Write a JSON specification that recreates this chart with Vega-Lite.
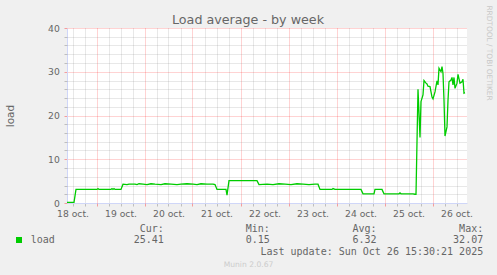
{
  "$schema": "https://vega.github.io/schema/vega-lite/v6.json",
  "width": 400,
  "height": 175,
  "autosize": {"type": "none"},
  "padding": {"left": 67, "top": 28, "right": 30, "bottom": 72},
  "background": "#f0f0f0",
  "title": {
    "text": "Load average - by week",
    "font": "DejaVu Sans",
    "fontSize": 12.7,
    "fontWeight": "normal",
    "color": "#666666",
    "anchor": "middle",
    "frame": "group",
    "dx": -19,
    "dy": 22,
    "offset": 0
  },
  "config": {
    "view": {"fill": "white", "stroke": null},
    "font": "DejaVu Sans"
  },
  "data": {
    "values": [
      {"t": "2025-10-18T09:15Z", "load": 0.15, "series": "load"},
      {"t": "2025-10-18T12:45Z", "load": 0.15, "series": "load"},
      {"t": "2025-10-18T13:45Z", "load": 3.1, "series": "load"},
      {"t": "2025-10-19T00:15Z", "load": 3.1, "series": "load"},
      {"t": "2025-10-19T00:45Z", "load": 3.3, "series": "load"},
      {"t": "2025-10-19T01:15Z", "load": 3.1, "series": "load"},
      {"t": "2025-10-19T07:15Z", "load": 3.1, "series": "load"},
      {"t": "2025-10-19T07:45Z", "load": 3.3, "series": "load"},
      {"t": "2025-10-19T08:15Z", "load": 3.1, "series": "load"},
      {"t": "2025-10-19T08:45Z", "load": 3.3, "series": "load"},
      {"t": "2025-10-19T09:15Z", "load": 3.1, "series": "load"},
      {"t": "2025-10-19T12:15Z", "load": 3.1, "series": "load"},
      {"t": "2025-10-19T13:15Z", "load": 4.3, "series": "load"},
      {"t": "2025-10-19T15:15Z", "load": 4.2, "series": "load"},
      {"t": "2025-10-19T16:15Z", "load": 4.3, "series": "load"},
      {"t": "2025-10-19T19:15Z", "load": 4.3, "series": "load"},
      {"t": "2025-10-19T20:15Z", "load": 4.2, "series": "load"},
      {"t": "2025-10-19T21:15Z", "load": 4.4, "series": "load"},
      {"t": "2025-10-19T23:15Z", "load": 4.3, "series": "load"},
      {"t": "2025-10-20T01:15Z", "load": 4.2, "series": "load"},
      {"t": "2025-10-20T03:15Z", "load": 4.4, "series": "load"},
      {"t": "2025-10-20T05:15Z", "load": 4.3, "series": "load"},
      {"t": "2025-10-20T08:15Z", "load": 4.2, "series": "load"},
      {"t": "2025-10-20T10:15Z", "load": 4.4, "series": "load"},
      {"t": "2025-10-20T13:15Z", "load": 4.3, "series": "load"},
      {"t": "2025-10-20T16:15Z", "load": 4.2, "series": "load"},
      {"t": "2025-10-20T18:15Z", "load": 4.3, "series": "load"},
      {"t": "2025-10-20T21:15Z", "load": 4.4, "series": "load"},
      {"t": "2025-10-21T00:15Z", "load": 4.3, "series": "load"},
      {"t": "2025-10-21T02:15Z", "load": 4.2, "series": "load"},
      {"t": "2025-10-21T04:15Z", "load": 4.4, "series": "load"},
      {"t": "2025-10-21T07:15Z", "load": 4.3, "series": "load"},
      {"t": "2025-10-21T10:15Z", "load": 4.3, "series": "load"},
      {"t": "2025-10-21T11:15Z", "load": 4.2, "series": "load"},
      {"t": "2025-10-21T12:15Z", "load": 3.1, "series": "load"},
      {"t": "2025-10-21T16:45Z", "load": 3.1, "series": "load"},
      {"t": "2025-10-21T17:15Z", "load": 1.8, "series": "load"},
      {"t": "2025-10-21T18:15Z", "load": 5.1, "series": "load"},
      {"t": "2025-10-22T08:15Z", "load": 5.1, "series": "load"},
      {"t": "2025-10-22T09:15Z", "load": 4.2, "series": "load"},
      {"t": "2025-10-22T13:15Z", "load": 4.3, "series": "load"},
      {"t": "2025-10-22T16:15Z", "load": 4.2, "series": "load"},
      {"t": "2025-10-22T19:15Z", "load": 4.4, "series": "load"},
      {"t": "2025-10-22T22:15Z", "load": 4.3, "series": "load"},
      {"t": "2025-10-23T01:15Z", "load": 4.2, "series": "load"},
      {"t": "2025-10-23T04:15Z", "load": 4.4, "series": "load"},
      {"t": "2025-10-23T07:15Z", "load": 4.3, "series": "load"},
      {"t": "2025-10-23T10:15Z", "load": 4.2, "series": "load"},
      {"t": "2025-10-23T13:15Z", "load": 4.3, "series": "load"},
      {"t": "2025-10-23T14:45Z", "load": 4.3, "series": "load"},
      {"t": "2025-10-23T15:45Z", "load": 3.1, "series": "load"},
      {"t": "2025-10-23T21:45Z", "load": 3.1, "series": "load"},
      {"t": "2025-10-23T22:15Z", "load": 3.3, "series": "load"},
      {"t": "2025-10-23T23:15Z", "load": 3.1, "series": "load"},
      {"t": "2025-10-24T12:15Z", "load": 3.1, "series": "load"},
      {"t": "2025-10-24T13:15Z", "load": 2.1, "series": "load"},
      {"t": "2025-10-24T18:45Z", "load": 2.1, "series": "load"},
      {"t": "2025-10-24T19:15Z", "load": 3.1, "series": "load"},
      {"t": "2025-10-24T22:45Z", "load": 3.1, "series": "load"},
      {"t": "2025-10-24T23:45Z", "load": 2.1, "series": "load"},
      {"t": "2025-10-25T07:15Z", "load": 2.1, "series": "load"},
      {"t": "2025-10-25T07:45Z", "load": 2.3, "series": "load"},
      {"t": "2025-10-25T08:15Z", "load": 2.1, "series": "load"},
      {"t": "2025-10-25T14:15Z", "load": 2.1, "series": "load"},
      {"t": "2025-10-25T15:15Z", "load": 2.0, "series": "load"},
      {"t": "2025-10-25T15:45Z", "load": 2.0, "series": "load"},
      {"t": "2025-10-25T16:45Z", "load": 26.0, "series": "load"},
      {"t": "2025-10-25T17:45Z", "load": 15.0, "series": "load"},
      {"t": "2025-10-25T18:15Z", "load": 23.2, "series": "load"},
      {"t": "2025-10-25T19:15Z", "load": 24.7, "series": "load"},
      {"t": "2025-10-25T19:45Z", "load": 28.0, "series": "load"},
      {"t": "2025-10-25T20:45Z", "load": 27.4, "series": "load"},
      {"t": "2025-10-25T21:15Z", "load": 27.2, "series": "load"},
      {"t": "2025-10-25T21:45Z", "load": 26.7, "series": "load"},
      {"t": "2025-10-25T22:45Z", "load": 26.6, "series": "load"},
      {"t": "2025-10-25T23:45Z", "load": 24.2, "series": "load"},
      {"t": "2025-10-26T00:15Z", "load": 23.8, "series": "load"},
      {"t": "2025-10-26T01:15Z", "load": 25.4, "series": "load"},
      {"t": "2025-10-26T02:15Z", "load": 27.9, "series": "load"},
      {"t": "2025-10-26T02:45Z", "load": 27.0, "series": "load"},
      {"t": "2025-10-26T03:15Z", "load": 30.8, "series": "load"},
      {"t": "2025-10-26T04:15Z", "load": 30.0, "series": "load"},
      {"t": "2025-10-26T04:45Z", "load": 31.2, "series": "load"},
      {"t": "2025-10-26T05:15Z", "load": 29.6, "series": "load"},
      {"t": "2025-10-26T05:45Z", "load": 23.5, "series": "load"},
      {"t": "2025-10-26T06:15Z", "load": 15.3, "series": "load"},
      {"t": "2025-10-26T07:15Z", "load": 17.4, "series": "load"},
      {"t": "2025-10-26T07:45Z", "load": 23.5, "series": "load"},
      {"t": "2025-10-26T08:15Z", "load": 27.7, "series": "load"},
      {"t": "2025-10-26T09:15Z", "load": 28.1, "series": "load"},
      {"t": "2025-10-26T09:45Z", "load": 28.7, "series": "load"},
      {"t": "2025-10-26T10:15Z", "load": 27.0, "series": "load"},
      {"t": "2025-10-26T10:45Z", "load": 28.7, "series": "load"},
      {"t": "2025-10-26T11:15Z", "load": 26.2, "series": "load"},
      {"t": "2025-10-26T12:15Z", "load": 27.4, "series": "load"},
      {"t": "2025-10-26T12:45Z", "load": 29.4, "series": "load"},
      {"t": "2025-10-26T13:45Z", "load": 27.4, "series": "load"},
      {"t": "2025-10-26T14:45Z", "load": 27.7, "series": "load"},
      {"t": "2025-10-26T15:15Z", "load": 28.3, "series": "load"},
      {"t": "2025-10-26T15:45Z", "load": 25.1, "series": "load"},
      {"t": "2025-10-26T16:15Z", "load": 25.2, "series": "load"}
    ]
  },
  "resolve": {"axis": {"x": "independent", "y": "independent"}},
  "layer": [
    {
      "mark": {"type": "line", "strokeWidth": 1.3, "interpolate": "linear"},
      "encoding": {
        "x": {
          "field": "t",
          "type": "temporal",
          "scale": {"type": "utc", "domain": [1760778900000, 1761498900000]},
          "axis": {
            "orient": "bottom",
            "values": [1760788800000, 1760810400000, 1760853600000, 1760875200000, 1760896800000, 1760940000000, 1760961600000, 1760983200000, 1761026400000, 1761048000000, 1761069600000, 1761112800000, 1761134400000, 1761156000000, 1761199200000, 1761220800000, 1761242400000, 1761285600000, 1761307200000, 1761328800000, 1761372000000, 1761393600000, 1761415200000, 1761458400000, 1761480000000],
            "grid": true,
            "gridColor": "#8c8c8c",
            "gridOpacity": 0.4,
            "gridDash": [1, 1],
            "ticks": true,
            "tickColor": "#8c8c8c",
            "tickOpacity": 0.5,
            "tickSize": 3,
            "domain": true,
            "domainColor": "#CFD6F8",
            "labelExpr": "utchours(datum.value) == 12 ? utcFormat(datum.value, '%d') + ' oct.' : ''",
            "labelFont": "DejaVu Sans",
            "labelFontSize": 9.2,
            "labelColor": "#666666",
            "labelPadding": 3,
            "labelOverlap": false,
            "labelFlush": false,
            "labelBound": false,
            "title": ["Cur:\u00a0\u00a0", "25.41"],
            "titleFont": "DejaVu Sans Mono",
            "titleFontSize": 10,
            "titleFontWeight": "normal",
            "titleColor": "#666666",
            "titleAlign": "right",
            "titleAnchor": null,
            "titleBaseline": "alphabetic",
            "titleAngle": 0,
            "titleX": 96.3,
            "titleY": 28,
            "titleLineHeight": 11.8
          }
        },
        "y": {
          "field": "load",
          "type": "quantitative",
          "scale": {"domain": [0, 40], "nice": false, "zero": true},
          "axis": {
            "orient": "left",
            "values": [0, 10, 20, 30, 40],
            "grid": true,
            "gridColor": "#ff0000",
            "gridOpacity": {"condition": {"test": "datum.value == 0", "value": 0}, "value": 0.35},
            "gridDash": [1, 1],
            "ticks": true,
            "tickColor": "#ff0000",
            "tickOpacity": 0.35,
            "tickSize": 3,
            "domain": true,
            "domainColor": "#CFD6F8",
            "labelFont": "DejaVu Sans",
            "labelFontSize": 9.2,
            "labelColor": "#666666",
            "labelPadding": 4.7,
            "title": "load",
            "titleFont": "DejaVu Sans",
            "titleFontSize": 10.5,
            "titleFontWeight": "normal",
            "titleColor": "#666666",
            "titleAngle": 270,
            "titleAlign": "center",
            "titleBaseline": "middle",
            "titleX": -57,
            "titleY": 87.5
          }
        },
        "color": {
          "field": "series",
          "type": "nominal",
          "scale": {"domain": ["load"], "range": ["#00cc00"]},
          "legend": {
            "orient": "none",
            "legendX": -53,
            "legendY": 207,
            "title": null,
            "padding": 0,
            "symbolType": "square",
            "symbolSize": 36,
            "symbolStrokeWidth": 0,
            "symbolFillColor": "#00cc00",
            "symbolOpacity": 1,
            "labelFont": "DejaVu Sans Mono",
            "labelFontSize": 10,
            "labelColor": "#666666",
            "labelOffset": 6.7
          }
        }
      }
    },
    {
      "mark": {"type": "line", "opacity": 0},
      "encoding": {
        "x": {
          "field": "t",
          "type": "temporal",
          "axis": {
            "orient": "bottom",
            "values": [1760832000000, 1760918400000, 1761004800000, 1761091200000, 1761177600000, 1761264000000, 1761350400000, 1761436800000],
            "grid": true,
            "gridColor": "#ff0000",
            "gridOpacity": 0.35,
            "gridDash": [1, 1],
            "ticks": true,
            "tickColor": "#ff0000",
            "tickOpacity": 0.35,
            "tickSize": 3,
            "domain": false,
            "labels": false,
            "title": ["Min:\u00a0\u00a0", "0.15"],
            "titleFont": "DejaVu Sans Mono",
            "titleFontSize": 10,
            "titleFontWeight": "normal",
            "titleColor": "#666666",
            "titleAlign": "right",
            "titleAnchor": null,
            "titleBaseline": "alphabetic",
            "titleAngle": 0,
            "titleX": 202.3,
            "titleY": 28,
            "titleLineHeight": 11.8
          }
        },
        "y": {
          "field": "load",
          "type": "quantitative",
          "axis": {
            "orient": "left",
            "values": [2, 4, 6, 8, 12, 14, 16, 18, 22, 24, 26, 28, 32, 34, 36, 38],
            "grid": true,
            "gridColor": "#8c8c8c",
            "gridOpacity": 0.4,
            "gridDash": [1, 1],
            "ticks": true,
            "tickColor": "#8c8c8c",
            "tickOpacity": 0.5,
            "tickSize": 3,
            "domain": false,
            "labels": false,
            "title": ["Avg:\u00a0\u00a0", "6.32"],
            "titleFont": "DejaVu Sans Mono",
            "titleFontSize": 10,
            "titleFontWeight": "normal",
            "titleColor": "#666666",
            "titleAlign": "right",
            "titleAnchor": null,
            "titleBaseline": "alphabetic",
            "titleAngle": 0,
            "titleX": 309,
            "titleY": 203,
            "titleLineHeight": 11.8
          }
        }
      }
    },
    {
      "mark": {"type": "line", "opacity": 0},
      "encoding": {
        "x": {
          "field": "t",
          "type": "temporal",
          "axis": {
            "orient": "bottom",
            "grid": false,
            "ticks": false,
            "domain": false,
            "labels": false,
            "title": ["Max:\u00a0\u00a0", "32.07", "Last update: Sun Oct 26 15:30:21 2025"],
            "titleFont": "DejaVu Sans Mono",
            "titleFontSize": 10,
            "titleFontWeight": "normal",
            "titleColor": "#666666",
            "titleAlign": "right",
            "titleAnchor": null,
            "titleBaseline": "alphabetic",
            "titleAngle": 0,
            "titleX": 415.7,
            "titleY": 28,
            "titleLineHeight": 11.8
          }
        },
        "y": {
          "field": "load",
          "type": "quantitative",
          "axis": {
            "orient": "right",
            "grid": false,
            "ticks": false,
            "domain": false,
            "labels": false,
            "title": "RRDTOOL / TOBI OETIKER",
            "titleFont": "DejaVu Sans",
            "titleFontSize": 7.4,
            "titleFontWeight": "normal",
            "titleColor": "#c8c8c8",
            "titleAngle": 90,
            "titleAlign": "center",
            "titleBaseline": "middle",
            "titleX": 21,
            "titleY": 24.5
          }
        }
      }
    },
    {
      "mark": {"type": "line", "opacity": 0},
      "encoding": {
        "x": {
          "field": "t",
          "type": "temporal",
          "axis": {
            "orient": "bottom",
            "grid": false,
            "ticks": false,
            "domain": false,
            "labels": false,
            "title": "Munin 2.0.67",
            "titleFont": "DejaVu Sans",
            "titleFontSize": 7.6,
            "titleFontWeight": "normal",
            "titleColor": "#cccccc",
            "titleAlign": "center",
            "titleAnchor": null,
            "titleBaseline": "alphabetic",
            "titleAngle": 0,
            "titleX": 181,
            "titleY": 63
          }
        },
        "y": {"field": "load", "type": "quantitative", "axis": null}
      }
    }
  ]
}
